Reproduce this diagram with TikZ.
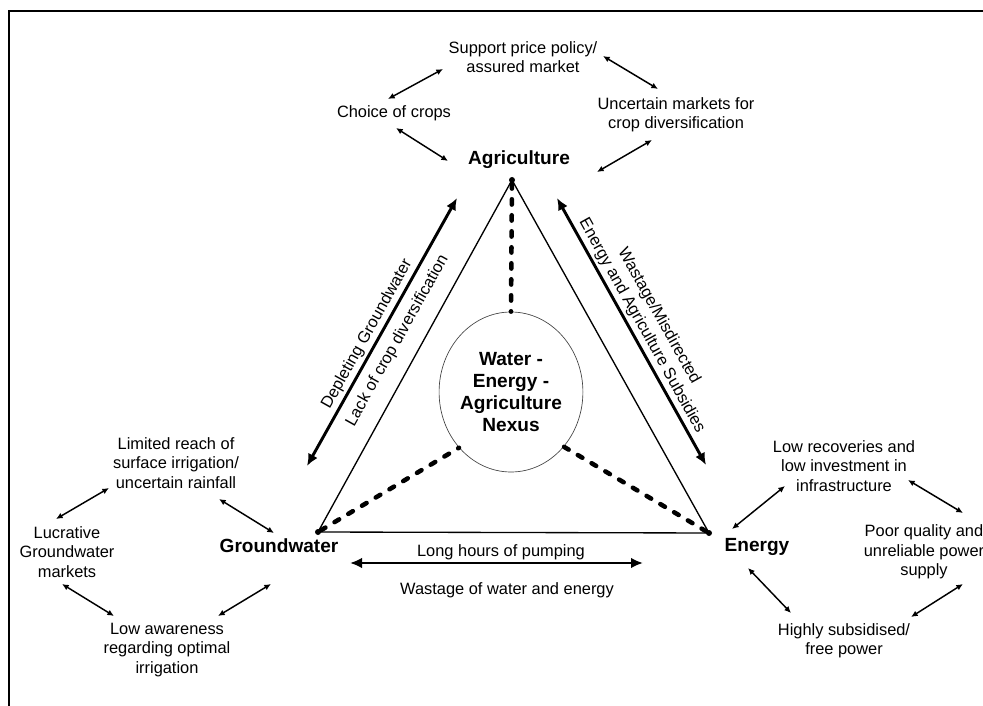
\documentclass[tikz,border=0pt]{standalone}
\usepackage{fontspec}
\setmainfont{Liberation Sans}
\usetikzlibrary{arrows.meta,shapes.geometric}

\begin{document}
\begin{tikzpicture}[x=0.75pt,y=-0.75pt,
  cause/.style={align=center,inner sep=1pt,font=\fontsize{12.3}{14.6}\selectfont},
  hub/.style={inner sep=1pt,font=\fontsize{14.3}{17}\selectfont\bfseries},
  dot/.style={circle,fill,inner sep=0pt,minimum size=4.5pt},
  pair/.style={{Latex[length=5pt,width=4.5pt]}-{Latex[length=5pt,width=4.5pt]},line width=1.1pt},
  flow/.style={{Latex[length=9pt,width=8pt]}-{Latex[length=9pt,width=8pt]},line width=2.2pt},
  flowtext/.style={font=\fontsize{12.3}{14.6}\selectfont,align=center,sloped,inner sep=2pt},
  side/.style={line width=1pt},
  link/.style={line width=3.4pt,line cap=round,dash pattern=on 4pt off 8pt}]
  \useasboundingbox (0,0) rectangle (983,706);
  \draw[line width=1.1pt] (9,706) -- (9,11) -- (983,11);

  % triangle and nexus
  \node[dot] (tA) at (512,180) {};
  \node[dot] (tG) at (318,532) {};
  \node[dot] (tE) at (709,533) {};
  \draw[side] (tA.center) -- (tG.center) -- (tE.center) -- cycle;
  \node[ellipse,draw=black!75,line width=0.5pt,minimum width=100.5pt,minimum height=120pt,inner sep=0pt,
        align=center,font=\fontsize{14.3}{16.5}\selectfont\bfseries] (nexus) at (511,392)
        {Water -\\Energy -\\Agriculture\\Nexus};
  \draw[link] (tA) -- (nexus.north);
  \draw[link] (tG) -- (nexus.-133);
  \draw[link] (tE) -- (nexus.-46);

  % the three sectors
  \node[hub] (agri) at (519,160) {Agriculture};
  \node[hub] (ground) at (279,546) {Groundwater};
  \node[hub] (energy) at (757,547) {Energy};

  % links along the sides
  \coordinate (lsA) at (307,466);
  \coordinate (lsB) at (457,198);
  \coordinate (rsA) at (557,198);
  \coordinate (rsB) at (706,465);
  \coordinate (bsA) at (350,563);
  \coordinate (bsB) at (643,563);
  \draw[flow] (lsA) -- (lsB)
    node[flowtext,pos=0.47,above] {Depleting Groundwater}
    node[flowtext,pos=0.5,below=4.5pt] {Lack of crop diversification};
  \draw[flow] (rsA) -- (rsB)
    node[flowtext,pos=0.5,above] {Wastage/Misdirected\\Energy and Agriculture Subsidies};
  \draw[flow] (bsA) -- (bsB);
  \node[cause] (pump) at (501,552) {Long hours of pumping};
  \node[cause] (waste) at (507,590) {Wastage of water and energy};

  % agriculture
  \node[cause] (support) at (523,57) {Support price policy/\\assured market};
  \node[cause] (choice) at (394,113) {Choice of crops};
  \node[cause] (uncert) at (676,115) {Uncertain markets for\\crop diversification};
  \draw[pair] ([shift={(-6,-14)}]choice.center) -- ([shift={(-80,12)}]support.center);
  \draw[pair] ([shift={(80,-1)}]support.center) -- ([shift={(-18,-26)}]uncert.center);
  \draw[pair] ([shift={(2,15)}]choice.center) -- ([shift={(-71,1)}]agri.center);
  \draw[pair] ([shift={(-24,25)}]uncert.center) -- ([shift={(78,12)}]agri.center);

  % groundwater
  \node[cause] (limited) at (176,463) {Limited reach of\\surface irrigation/\\uncertain rainfall};
  \node[cause] (lucr) at (67,552) {Lucrative\\Groundwater\\markets};
  \node[cause] (lowaw) at (167,650) {Low awareness\\regarding optimal\\irrigation};
  \draw[pair] ([shift={(-11,-33)}]lucr.center) -- ([shift={(-67,25)}]limited.center);
  \draw[pair] ([shift={(43,36)}]limited.center) -- ([shift={(-5,-13)}]ground.center);
  \draw[pair] ([shift={(-5,32)}]lucr.center) -- ([shift={(-53,-34)}]lowaw.center);
  \draw[pair] ([shift={(51,-34)}]lowaw.center) -- ([shift={(-8,38)}]ground.center);

  % energy
  \node[cause] (lowrec) at (844,466) {Low recoveries and\\low investment in\\infrastructure};
  \node[cause] (poor) at (924,552) {Poor quality and\\unreliable power\\supply};
  \node[cause] (highly) at (844,641) {Highly subsidised/\\free power};
  \draw[pair] ([shift={(-25,-18)}]energy.center) -- ([shift={(-59,20)}]lowrec.center);
  \draw[pair] ([shift={(64,14)}]lowrec.center) -- ([shift={(39,-39)}]poor.center);
  \draw[pair] ([shift={(-9,21)}]energy.center) -- ([shift={(-53,-28)}]highly.center);
  \draw[pair] ([shift={(67,-24)}]highly.center) -- ([shift={(39,32)}]poor.center);
\end{tikzpicture}
\end{document}
